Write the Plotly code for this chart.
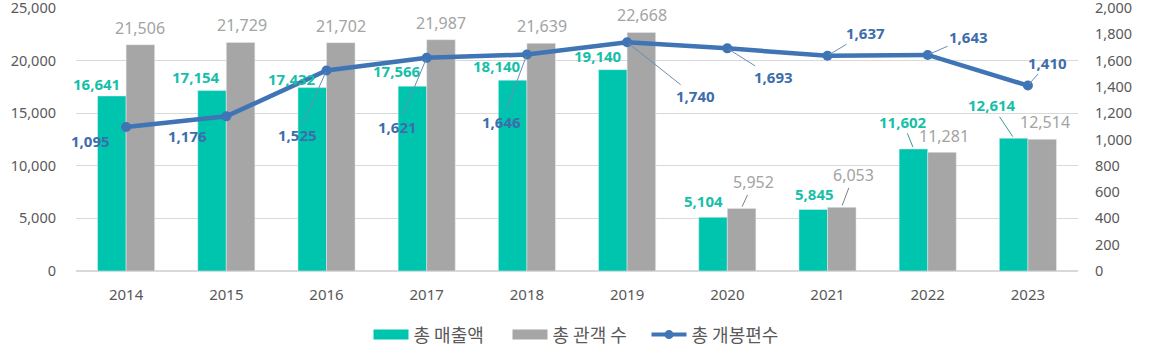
import plotly.graph_objects as go

years = ['2014', '2015', '2016', '2017', '2018', '2019', '2020', '2021', '2022', '2023']
sales = [16641, 17154, 17432, 17566, 18140, 19140, 5104, 5845, 11602, 12614]
audience = [21506, 21729, 21702, 21987, 21639, 22668, 5952, 6053, 11281, 12514]
releases = [1095, 1176, 1525, 1621, 1646, 1740, 1693, 1637, 1643, 1410]

names = ['총 매출액', '총 관객 수', '총 개봉편수']

TEAL = '#00C5AE'
GRAY = '#A6A6A6'
BLUE = '#3F74B5'
TEAL_TXT = '#17BFA9'
GRAY_TXT = '#A3A3A3'
BLUE_TXT = '#3D6DAA'
AXIS_TXT = '#595959'
FONT = 'Noto Sans CJK KR'
NUM_FONT = 'Noto Sans, Noto Sans CJK KR'

# label offsets (dx, dy up, leader)
teal_off = [(-16, 12, 0), (-16, 14, 0), (-21, 9, 0), (-16, 15, 0), (-16, 14, 0),
            (-15, 14, 0), (-10, 16, 0), (1, 16, 0), (-11, 27, 1), (-22, 33, 1)]
gray_off = [(0, 17, 0), (2, 17, 0), (0, 17, 0), (0, 17, 0), (1, 17, 0),
            (1, 18, 0), (12, 26, 1), (12, 32, 1), (2, 16, 0), (3, 17, 0)]
line_off = [(-36, -14, 0), (-39, -20, 0), (-29, -65, 1), (-29, -69, 1), (-25, -67, 1),
            (68, -54, 1), (46, -29, 1), (38, 23, 1), (41, 18, 1), (20, 23, 1)]

fig = go.Figure()
fig.add_trace(go.Bar(x=years, y=sales, name=names[0], marker_color=TEAL,
                     showlegend=False, yaxis='y'))
fig.add_trace(go.Bar(x=years, y=audience, name=names[1], marker_color=GRAY,
                     showlegend=False, yaxis='y'))
fig.add_trace(go.Scatter(x=years, y=releases, name=names[2], mode='lines+markers',
                         line=dict(color=BLUE, width=4.5), marker=dict(size=10, color=BLUE),
                         yaxis='y2', showlegend=False))
# legend entries
fig.add_trace(go.Scatter(x=[None], y=[None], mode='lines', name=names[0],
                         line=dict(color=TEAL, width=10)))
fig.add_trace(go.Scatter(x=[None], y=[None], mode='lines', name=names[1],
                         line=dict(color=GRAY, width=10)))
fig.add_trace(go.Scatter(x=[None], y=[None], mode='lines+markers', name=names[2],
                         line=dict(color=BLUE, width=4), marker=dict(size=9, color=BLUE)))

BAR_SHIFT = 14
ann = []


def add_label(i, y, yref, shift, off, color, bold, lead_color):
    dx, dy, lead = off
    txt = f'{y:,}'
    if bold:
        txt = f'<b>{txt}</b>'
        size = 15
    else:
        size = 16
    font = dict(family=NUM_FONT, size=size, color=color)
    if lead:
        ann.append(dict(x=i, y=y, xref='x', yref=yref, text=txt, font=font,
                        showarrow=True, ax=dx, ay=-dy, xshift=shift,
                        arrowhead=0, arrowwidth=1, arrowcolor=lead_color, standoff=2))
    else:
        ann.append(dict(x=i, y=y, xref='x', yref=yref, text=txt, font=font,
                        showarrow=False, xshift=shift + dx, yshift=dy))


for i in range(len(years)):
    add_label(i, sales[i], 'y', -BAR_SHIFT, teal_off[i], TEAL_TXT, True, '#3a9a8e')
    add_label(i, audience[i], 'y', BAR_SHIFT, gray_off[i], GRAY_TXT, False, '#7f7f7f')
    add_label(i, releases[i], 'y2', 0, line_off[i], BLUE_TXT, True, '#6a8db5')

fig.update_layout(
    width=1150, height=362,
    margin=dict(l=76, r=72, t=8, b=89),
    plot_bgcolor='white', paper_bgcolor='white',
    barmode='group', bargap=0.43, bargroupgap=0,
    font=dict(family=FONT, color=AXIS_TXT, size=16),
    xaxis=dict(type='category', range=[-0.5, len(years) - 0.5], autorange=False,
               showgrid=False, showline=False, ticks='', automargin=False,
               tickfont=dict(family=NUM_FONT, size=15, color=AXIS_TXT), ticklabelstandoff=13),
    yaxis=dict(range=[0, 25000], tickvals=[0, 5000, 10000, 15000, 20000, 25000],
               tickformat=',', showgrid=True, automargin=False, ticklabeloverflow='allow',
               gridcolor='#D9D9D9', gridwidth=1, zeroline=True, zerolinecolor='#D9D9D9',
               tickfont=dict(family=NUM_FONT, size=14.5, color=AXIS_TXT), ticklabelstandoff=19),
    yaxis2=dict(range=[0, 2000], tickvals=list(range(0, 2001, 200)), tickformat=',',
                overlaying='y', side='right', automargin=False, ticklabeloverflow='allow',
                showgrid=False, zeroline=False,
                tickfont=dict(family=NUM_FONT, size=14.5, color=AXIS_TXT), ticklabelstandoff=16),
    legend=dict(orientation='h', x=0.5, xanchor='center', y=-0.243, yanchor='middle',
                font=dict(size=18, color=AXIS_TXT), itemwidth=35, traceorder='normal',
                entrywidth=89, entrywidthmode='pixels'),
    annotations=ann,
)

fig.write_html('out.html', config={'displayModeBar': False},
               post_script="document.body.style.margin='0';")
